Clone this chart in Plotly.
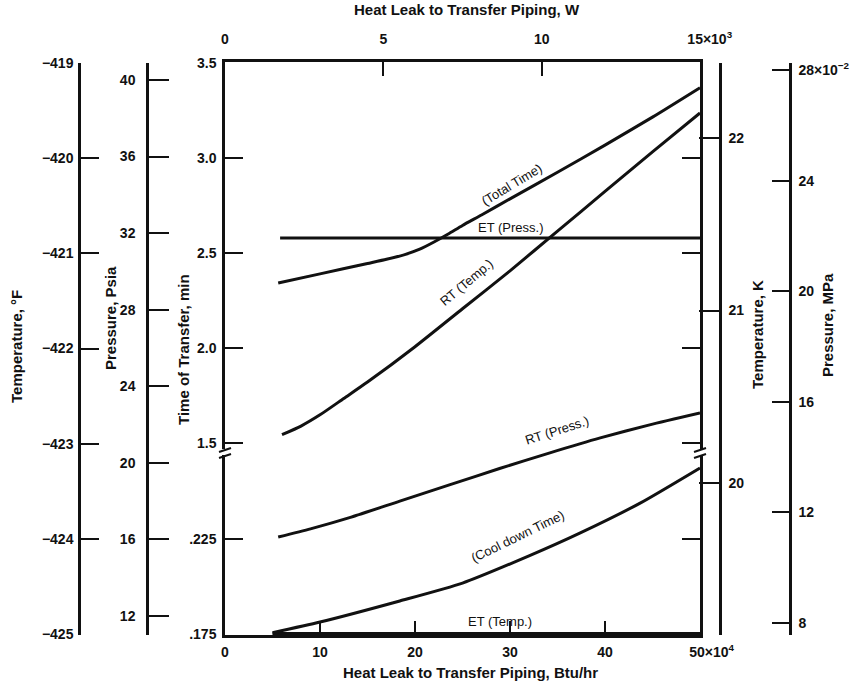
import plotly.graph_objects as go

# ---------------- data ----------------
# Heat leak to transfer piping, Btu/hr (x 10^4)
heat_total = [5.6, 10, 15, 17, 19, 20.5, 22, 23.5, 25, 27, 30, 35, 40, 45, 50]
total_time_min = [2.342, 2.39, 2.445, 2.467, 2.493, 2.52, 2.558, 2.6, 2.645, 2.70,
                  2.785, 2.925, 3.068, 3.215, 3.37]

heat_rt_temp = [6, 8, 10, 12.5, 15, 20, 25, 30, 35, 40, 45, 50]
rt_temp_K = [20.28, 20.33, 20.395, 20.49, 20.585, 20.79, 21.01, 21.23, 21.46, 21.69,
             21.92, 22.145]

heat_rt_press = [5.6, 9.0, 13.2, 18.4, 23.7, 28.9, 34.2, 39.5, 44.7, 50]
rt_press_psia = [16.12, 16.55, 17.15, 18.0, 18.86, 19.7, 20.52, 21.3, 21.98, 22.6]

heat_cool = [5.0, 10, 18.4, 25, 32, 37.4, 43.7, 50]
cool_time_min = [0.1757, 0.1813, 0.1924, 0.2018, 0.2161, 0.2282, 0.2439, 0.2624]

heat_et_press = [5.8, 50]
et_press_psia = [31.74, 31.74]

heat_et_temp = [5.0, 50]
et_temp_K = [19.1275, 19.1275]

# tick labels
NB = "\u00a0"
btu_ticks = [0, 10, 20, 30, 40, 50]
btu_text = ["0", "10", "20", "30", "40", NB * 6 + "50×10<sup>4</sup>"]
w_ticks = [0, 5, 10, 15]
w_text = ["0", "5", "10", NB * 5 + "15×10<sup>3</sup>"]
time_hi_ticks = [1.5, 2.0, 2.5, 3.0, 3.5]
time_hi_text = ["1.5", "2.0", "2.5", "3.0", "3.5"]
time_lo_ticks = [0.175, 0.225]
time_lo_text = [".175", ".225"]
psia_ticks = [12, 16, 20, 24, 28, 32, 36, 40]
degF_ticks = [-425, -424, -423, -422, -421, -420, -419]
K_ticks = [20, 21, 22]
mpa_ticks = [8, 12, 16, 20, 24, 28]
mpa_text = ["8", "12", "16", "20", "24", "28×10<sup>−2</sup>"]

# ---------------- layout geometry ----------------
W, H = 859, 686
MT, MB = 62, 51
PH = H - MT - MB


def fx(px):
    return px / W


def fy(py):
    return (H - MB - py) / PH


INK = "#111111"
FONT = "Liberation Sans"
tickfont = dict(family=FONT, size=14, color=INK, weight="bold")
titlefont = dict(family=FONT, size=15, color=INK, weight="bold")
labfont = dict(family=FONT, size=13, color=INK)

fig = go.Figure()
line = dict(color=INK, width=3, shape="spline", smoothing=0.6)

fig.add_trace(go.Scatter(x=heat_total, y=total_time_min, xaxis="x", yaxis="y2",
                         mode="lines", line=line, name="Total Time"))
fig.add_trace(go.Scatter(x=heat_cool, y=cool_time_min, xaxis="x", yaxis="y3",
                         mode="lines", line=line, name="Cool down Time"))
fig.add_trace(go.Scatter(x=heat_et_press, y=et_press_psia, xaxis="x", yaxis="y",
                         mode="lines", line=dict(color=INK, width=3), name="ET (Press.)"))
fig.add_trace(go.Scatter(x=heat_rt_press, y=rt_press_psia, xaxis="x", yaxis="y",
                         mode="lines", line=line, name="RT (Press.)"))
fig.add_trace(go.Scatter(x=heat_rt_temp, y=rt_temp_K, xaxis="x", yaxis="y5",
                         mode="lines", line=line, name="RT (Temp.)"))
fig.add_trace(go.Scatter(x=heat_et_temp, y=et_temp_K, xaxis="x", yaxis="y5",
                         mode="lines", line=dict(color=INK, width=3), name="ET (Temp.)"))
# empty traces so that the unit-conversion axes (°F, MPa, W) are drawn
fig.add_trace(go.Scatter(x=[None], y=[None], xaxis="x", yaxis="y4", mode="lines",
                         hoverinfo="skip", showlegend=False))
fig.add_trace(go.Scatter(x=[None], y=[None], xaxis="x", yaxis="y6", mode="lines",
                         hoverinfo="skip", showlegend=False))
fig.add_trace(go.Scatter(x=[None], y=[None], xaxis="x2", yaxis="y2", mode="lines",
                         hoverinfo="skip", showlegend=False))

ydom = [0.0, fy(63)]
Y0 = 635  # pixel row of the bottom of the common domain
common = dict(showgrid=False, zeroline=False, showline=True, linecolor=INK,
              linewidth=2.5, tickcolor=INK, tickwidth=2, tickfont=tickfont,
              ticks="inside", fixedrange=True, automargin=False)

fig.update_layout(
    template="none",
    width=W, height=H,
    margin=dict(l=0, r=0, t=MT, b=MB, pad=0, autoexpand=False),
    paper_bgcolor="white", plot_bgcolor="rgba(0,0,0,0)",
    showlegend=False,
    xaxis=dict(common, domain=[fx(225), fx(700)], range=[0, 50], anchor="y3",
               tickvals=btu_ticks, ticktext=btu_text, ticklen=14,
               ticklabelstandoff=2),
    xaxis2=dict(common, overlaying="x", side="top", anchor="y2", range=[0, 15],
                tickvals=w_ticks, ticktext=w_text, ticklen=14,
                ticklabelstandoff=10),
    yaxis2=dict(common, domain=[fy(449), 1.0], anchor="x",
                range=[3.5 - (449 - 63) / 190, 3.5 + 1 / 190],
                tickvals=time_hi_ticks, ticktext=time_hi_text, ticklen=18,
                mirror="ticks", ticklabelstandoff=3),
    yaxis3=dict(common, domain=[0.0, fy(455)], anchor="x",
                range=[0.175 - 1 / 1900, 0.175 + 179 / 1900],
                tickvals=time_lo_ticks, ticktext=time_lo_text, ticklen=18,
                mirror="ticks", ticklabelstandoff=3),
    yaxis=dict(common, domain=ydom, anchor="free", position=fx(147), side="left",
               range=[40 - (Y0 - 80) / 19.14, 40 - (63 - 80) / 19.14],
               tickvals=psia_ticks, ticklen=20, ticklabelstandoff=8),
    yaxis4=dict(common, overlaying="y", anchor="free", position=fx(79), side="left",
                range=[-425 - (Y0 - 634) / 95.17, -419], tickvals=degF_ticks,
                ticklen=18, ticklabelstandoff=2),
    yaxis5=dict(common, overlaying="y", anchor="free", position=fx(720), side="right",
                range=[22 - (Y0 - 138) / 172.5, 22 - (63 - 138) / 172.5],
                tickvals=K_ticks, ticklen=20, ticklabelstandoff=4),
    yaxis6=dict(common, overlaying="y", anchor="free", position=fx(790), side="right",
                range=[28 - (Y0 - 70) / 27.65, 28 - (63 - 70) / 27.65],
                tickvals=mpa_ticks, ticktext=mpa_text, ticklen=17,
                ticklabelstandoff=4),
)

# axis titles
def ptitle(text, px, py, angle=0):
    fig.add_annotation(text=text, x=fx(px), y=fy(py), xref="paper", yref="paper",
                       showarrow=False, textangle=angle, font=titlefont,
                       xanchor="center", yanchor="middle")

ptitle("Temperature, °F", 16, 347, -90)
ptitle("Pressure, Psia", 110, 318, -90)
ptitle("Time of Transfer, min", 183, 350, -90)
ptitle("Temperature, K", 757, 335, -90)
ptitle("Pressure, MPa", 828, 325, -90)
ptitle("Heat Leak to Transfer Piping, W", 467, 10)
ptitle("Heat Leak to Transfer Piping, Btu/hr", 470, 672)

# curve labels (data coordinates)
def clabel(text, x, y, yref, angle):
    fig.add_annotation(text=text, x=x, y=y, xref="x", yref=yref, showarrow=False,
                       textangle=angle, font=labfont)

clabel("(Total Time)", 30.2, 2.858, "y2", -31)
clabel("ET (Press.)", 30.1, 32.32, "y", 0)
clabel("RT (Temp.)", 25.4, 21.165, "y5", -40)
clabel("RT (Press.)", 34.9, 21.71, "y", -18)
clabel("(Cool down Time)", 30.8, 0.2261, "y3", -26)
clabel("ET (Temp.)", 28.9, 0.1818, "y3", 0)

# axis break marks
for xb in (225, 700):
    for yb in (450, 456):
        fig.add_shape(type="line", xref="paper", yref="paper",
                      x0=fx(xb - 6), y0=fy(yb + 2), x1=fx(xb + 6), y1=fy(yb - 2),
                      line=dict(color=INK, width=2))

fig.write_html("out.html")
